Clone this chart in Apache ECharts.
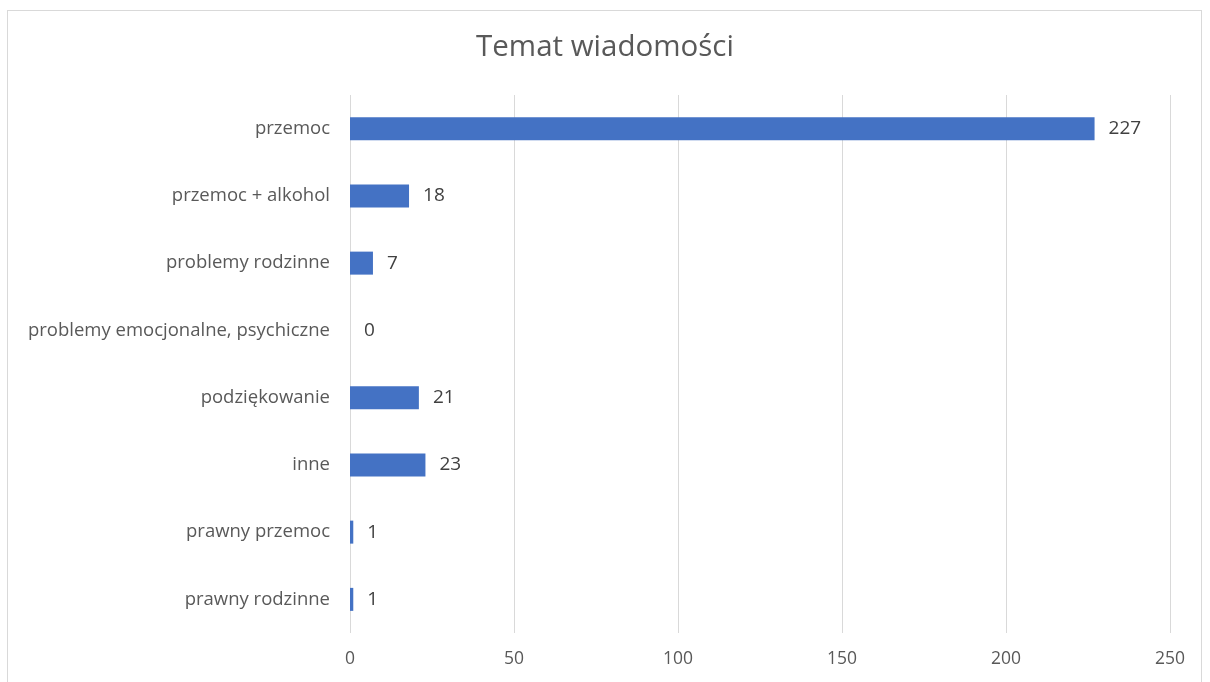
<!DOCTYPE html>
<html>
<head>
<meta charset="utf-8">
<script src="https://cdn.jsdelivr.net/npm/echarts@6/dist/echarts.min.js"></script>
<style>
    html, body { margin: 0; padding: 0; background: #fff; }
    #frame {
        position: absolute;
        left: 7px; top: 10px;
        width: 1195px; height: 680px;
        border: 1px solid #d9d9d9;
        box-sizing: border-box;
    }
    #chart { position: absolute; left: 0; top: 0; width: 1210px; height: 682px; }
</style>
</head>
<body>
<div id="frame"></div>
<div id="chart"></div>
<script>
var categories = [
    "przemoc",
    "przemoc + alkohol",
    "problemy rodzinne",
    "problemy emocjonalne, psychiczne",
    "podziękowanie",
    "inne",
    "prawny przemoc",
    "prawny rodzinne"
];
var counts = [227, 18, 7, 0, 21, 23, 1, 1];
var xTicks = [0, 50, 100, 150, 200, 250];

var myChart = echarts.init(document.getElementById("chart"));
var fontFam = "'Open Sans', 'Noto Sans', sans-serif";
var option = {
    backgroundColor: "transparent",
    animation: false,
    title: {
        text: "Temat wiadomości",
        left: "center",
        top: 28,
        textStyle: {
            color: "#595959",
            fontSize: 29.5,
            fontWeight: 400,
            fontFamily: fontFam
        }
    },
    grid: {
        left: 350,
        right: 40,
        top: 95,
        bottom: 49,
        containLabel: false
    },
    xAxis: {
        type: "value",
        min: xTicks[0],
        max: xTicks[xTicks.length - 1],
        interval: 50,
        axisLine: { show: false },
        axisTick: { show: false },
        splitLine: { show: true, lineStyle: { color: "#d9d9d9", width: 1 } },
        axisLabel: {
            color: "#595959",
            fontSize: 17.5,
            fontFamily: fontFam,
            margin: 17
        }
    },
    yAxis: {
        type: "category",
        inverse: true,
        data: categories,
        axisLine: { show: false },
        axisTick: { show: false },
        axisLabel: {
            color: "#595959",
            fontSize: 18.5,
            fontFamily: fontFam,
            margin: 20
        }
    },
    series: [
        {
            type: "bar",
            data: counts,
            barWidth: 23,
            itemStyle: { color: "#4472c4" },
            label: {
                show: true,
                position: "right",
                distance: 14,
                color: "#404040",
                fontSize: 19,
                fontFamily: fontFam
            }
        }
    ]
};
myChart.setOption(option);
</script>
</body>
</html>
